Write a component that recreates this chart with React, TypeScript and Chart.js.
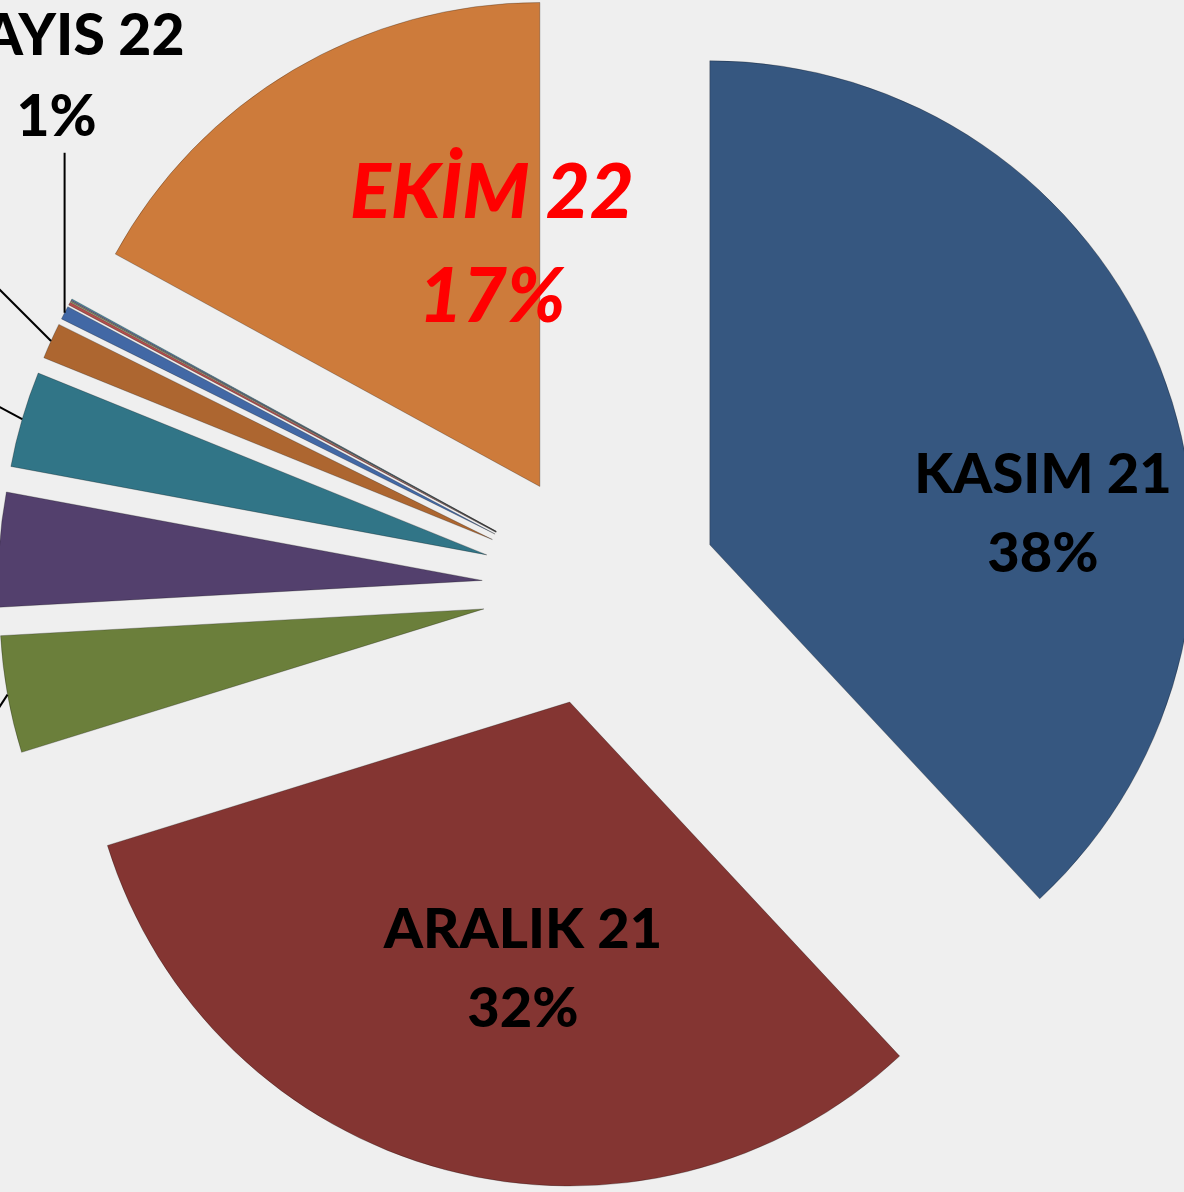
import { useEffect, useRef } from "react";
import { Chart, registerables } from "chart.js";

Chart.register(...registerables);

// ---- data ----
const categories = [
  "KASIM 21", "ARALIK 21", "OCAK 22", "ŞUBAT 22", "MART 22", "NİSAN 22",
  "MAYIS 22", "HAZİRAN 22", "TEMMUZ 22", "AĞUSTOS 22", "EYLÜL 22", "EKİM 22",
];
const shares = [38.0, 32.1, 3.9, 3.8, 3.2, 1.2, 0.45, 0.1, 0.03, 0.03, 0.03, 17.0];
const percentLabels = ["38%", "32%", "4%", "4%", "3%", "1%", "1%", "0%", "0%", "0%", "0%", "17%"];

// ---- styles ----
const sliceColors = [
  "#365780", "#843532", "#6B7F3B", "#53406D", "#317587", "#AD6630",
  "#4268A5", "#B04E4B", "#8AA64E", "#7359A0", "#43A0B8", "#CD7B3B",
];
const CANVAS = 1600;
const RADIUS = 484;
const EXPLODE = 118;
const FONT = "Lato, 'Open Sans', sans-serif";
const WEIGHT = 900;

// inside labels: offset from pie centre (pixels), style only
const insideLabels: Record<number, { dx: number; y1: number; y2: number; size: number; color: string; italic: boolean }> = {
  0: { dx: 443, y1: -95, y2: -16, size: 56, color: "#000000", italic: false },
  1: { dx: -77, y1: 360, y2: 439, size: 56, color: "#000000", italic: false },
  11: { dx: -108, y1: -370, y2: -266, size: 76, color: "#FF0000", italic: true },
};
// leader lines: vector from the slice's outer edge to the label end
const leaders: Record<number, { dx: number; dy: number }> = {
  2: { dx: -34, dy: 52 },
  3: { dx: -60, dy: 0 },
  4: { dx: -56, dy: -30 },
  5: { dx: -90, dy: -90 },
  6: { dx: 0, dy: -160 },
};

const explodePlugin = {
  id: "explode",
  beforeDatasetDraw(chart: any, args: any) {
    const meta = chart.getDatasetMeta(args.index);
    const ctx = chart.ctx;
    meta.data.forEach((arc: any) => {
      const mid = (arc.startAngle + arc.endAngle) / 2;
      ctx.save();
      ctx.translate(Math.cos(mid) * EXPLODE, Math.sin(mid) * EXPLODE);
      arc.draw(ctx, chart.chartArea);
      ctx.restore();
    });
    return false;
  },
  afterDatasetsDraw(chart: any) {
    const meta = chart.getDatasetMeta(0);
    const ctx = chart.ctx;
    meta.data.forEach((arc: any, i: number) => {
      const mid = (arc.startAngle + arc.endAngle) / 2;
      const cx = arc.x;
      const cy = arc.y;
      const lab = insideLabels[i];
      if (lab) {
        ctx.save();
        ctx.fillStyle = lab.color;
        ctx.textAlign = "center";
        ctx.textBaseline = "alphabetic";
        ctx.font = `${lab.italic ? "italic " : ""}${WEIGHT} ${lab.size}px ${FONT}`;
        ctx.fillText(categories[i], cx + lab.dx, cy + lab.y1);
        ctx.fillText(percentLabels[i], cx + lab.dx, cy + lab.y2);
        ctx.restore();
        return;
      }
      const ld = leaders[i];
      if (!ld) return;
      const r = EXPLODE + arc.outerRadius;
      const ax = cx + Math.cos(mid) * r;
      const ay = cy + Math.sin(mid) * r;
      const ex = ax + ld.dx;
      const ey = ay + ld.dy;
      ctx.save();
      ctx.strokeStyle = "#000000";
      ctx.lineWidth = 2;
      ctx.beginPath();
      ctx.moveTo(ax, ay);
      ctx.lineTo(ex, ey);
      ctx.stroke();
      ctx.fillStyle = "#000000";
      ctx.font = `${WEIGHT} 57px ${FONT}`;
      ctx.textBaseline = "alphabetic";
      if (ld.dy < -120) {
        ctx.textAlign = "center";
        ctx.fillText(categories[i], ex - 8, ey - 98);
        ctx.fillText(percentLabels[i], ex - 8, ey - 17);
      } else {
        ctx.textAlign = "right";
        ctx.fillText(categories[i], ex - 8, ey - 4);
        ctx.fillText(percentLabels[i], ex - 8, ey + 74);
      }
      ctx.restore();
    });
  },
};

export default function App() {
  const ref = useRef<HTMLCanvasElement | null>(null);
  useEffect(() => {
    if (!ref.current) return;
    const chart = new Chart(ref.current, {
      type: "pie",
      data: {
        labels: categories,
        datasets: [
          {
            data: shares,
            backgroundColor: sliceColors,
            borderColor: "rgba(0,0,0,0.25)",
            borderWidth: 1,
          },
        ],
      },
      options: {
        responsive: false,
        animation: false,
        events: [],
        radius: RADIUS,
        layout: { padding: 0 },
        plugins: {
          legend: { display: false },
          tooltip: { enabled: false },
          title: { display: false },
        },
      },
      plugins: [explodePlugin],
    });
    return () => chart.destroy();
  }, []);

  return (
    <div
      style={{
        position: "fixed",
        left: 0,
        top: 0,
        width: 1184,
        height: 1192,
        overflow: "hidden",
        background: "#efefef",
      }}
    >
      <div style={{ position: "absolute", left: 600 - CANVAS / 2, top: 588 - CANVAS / 2 }}>
        <canvas ref={ref} width={CANVAS} height={CANVAS} style={{ display: "block" }} />
      </div>
    </div>
  );
}
